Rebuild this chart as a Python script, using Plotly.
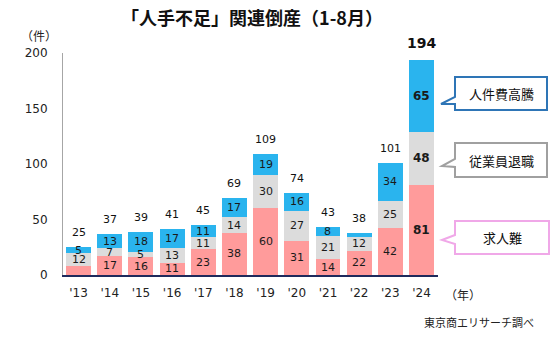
import plotly.graph_objects as go

# 「人手不足」関連倒産 (1-8月), 東京商工リサーチ
years = ["'13", "'14", "'15", "'16", "'17", "'18", "'19", "'20", "'21", "'22", "'23", "'24"]
kyujinnan = [8, 17, 16, 11, 23, 38, 60, 31, 14, 22, 42, 81]      # 求人難
taishoku = [12, 7, 5, 13, 11, 14, 30, 27, 21, 12, 25, 48]         # 従業員退職
jinkenhi = [5, 13, 18, 17, 11, 17, 19, 16, 8, 4, 34, 65]          # 人件費高騰
totals = [25, 37, 39, 41, 45, 69, 109, 74, 43, 38, 101, 194]

# segments drawn without a number inside
hide_pink = {"'13"}
hide_blue = {"'22"}

W, H = 559, 339
L, R, T, B = 63, 121, 53, 64

PINK = "#FF9B9B"
GRAY = "#DCDCDC"
BLUE = "#2AB4EE"
NUM_FONT = "DejaVu Sans, Verdana, sans-serif"
JP_FONT = "Noto Sans CJK JP, sans-serif"

fig = go.Figure()
for name, vals, col in [("求人難", kyujinnan, PINK),
                        ("従業員退職", taishoku, GRAY),
                        ("人件費高騰", jinkenhi, BLUE)]:
    fig.add_trace(go.Bar(x=years, y=vals, name=name, marker=dict(color=col, line=dict(width=0)),
                         hoverinfo="x+y+name"))

annotations = []
last = len(years) - 1
for i, yr in enumerate(years):
    base = 0
    bold = i == last
    for vals, hidden in [(kyujinnan, hide_pink), (taishoku, set()), (jinkenhi, hide_blue)]:
        v = vals[i]
        if yr not in hidden:
            annotations.append(dict(
                x=yr, y=base + v / 2, xref="x", yref="y",
                text=f"<b>{v}</b>" if bold else str(v), showarrow=False,
                font=dict(family=NUM_FONT, size=12 if bold else 11, color="#1a1a1a"),
                yanchor="middle"))
        base += v
    annotations.append(dict(
        x=yr, y=totals[i], xref="x", yref="y",
        text=f"<b>{totals[i]}</b>" if bold else str(totals[i]),
        showarrow=False, yanchor="bottom", yshift=6 if not bold else 7,
        font=dict(family=NUM_FONT, size=14 if bold else 11, color="#111111")))


def px(x):
    return (x - L) / (W - L - R)


def py(y):
    return (H - B - y) / (H - T - B)


# callout boxes beside the last bar
callouts = [
    ("人件費高騰", "#2E75B6", (455, 547, 77, 110), (441, 104), (97, 104)),
    ("従業員退職", "#A0A0A0", (455, 547, 143, 177), (442, 166), (159, 167)),
    ("求人難", "#F0A8E8", (455, 549, 221, 254), (442, 240), (235, 244)),
]
shapes = []
for label, col, (x0, x1, y0, y1), (tx, ty), (b0, b1) in callouts:
    pts = [(x0, y0), (x1, y0), (x1, y1), (x0, y1), (x0, b1), (tx, ty), (x0, b0)]
    path = "M " + " L ".join(f"{px(a):.5f},{py(b):.5f}" for a, b in pts) + " Z"
    shapes.append(dict(type="path", path=path, xref="paper", yref="paper",
                       line=dict(color=col, width=2), fillcolor="white", layer="above"))
    annotations.append(dict(x=px((x0 + x1) / 2), y=py((y0 + y1) / 2), xref="paper", yref="paper",
                            text=label, showarrow=False, xanchor="center", yanchor="middle",
                            font=dict(family=JP_FONT, size=13, color="#111111")))

annotations += [
    dict(x=px(39), y=py(36), xref="paper", yref="paper", text="（件）", showarrow=False,
         xanchor="center", yanchor="middle",
         font=dict(family=JP_FONT, size=12, color="#222222")),
    dict(x=px(463), y=py(294), xref="paper", yref="paper", text="（年）", showarrow=False,
         xanchor="center", yanchor="middle",
         font=dict(family=JP_FONT, size=12, color="#222222")),
    dict(x=px(536), y=py(322), xref="paper", yref="paper", text="東京商エリサーチ調べ", showarrow=False,
         xanchor="right", yanchor="middle", font=dict(family=JP_FONT, size=11, color="#222222")),
]

fig.update_layout(
    width=W, height=H,
    margin=dict(l=L, r=R, t=T, b=B),
    barmode="stack", bargap=0.2,
    showlegend=False,
    plot_bgcolor="white", paper_bgcolor="white",
    title=dict(text="<b>「人手不足」関連倒産（1-8月）</b>", x=252 / W, xanchor="center",
               y=1 - 19 / H, yanchor="middle", xref="container", yref="container",
               font=dict(family=JP_FONT, size=18, color="#111111")),
    xaxis=dict(showgrid=False, ticks="", showline=True, linecolor="#1F2A5C", linewidth=1.5,
               tickfont=dict(family=NUM_FONT, size=12, color="#222222"), ticklabelstandoff=6,
               fixedrange=True),
    yaxis=dict(range=[0, 200], tickvals=[0, 50, 100, 150, 200], showgrid=False, zeroline=False,
               ticks="", showline=True, linecolor="#A6A6A6", linewidth=1,
               tickfont=dict(family=NUM_FONT, size=12, color="#222222"), ticklabelstandoff=12,
               fixedrange=True),
    annotations=annotations,
    shapes=shapes,
)

fig.write_html("out.html")
